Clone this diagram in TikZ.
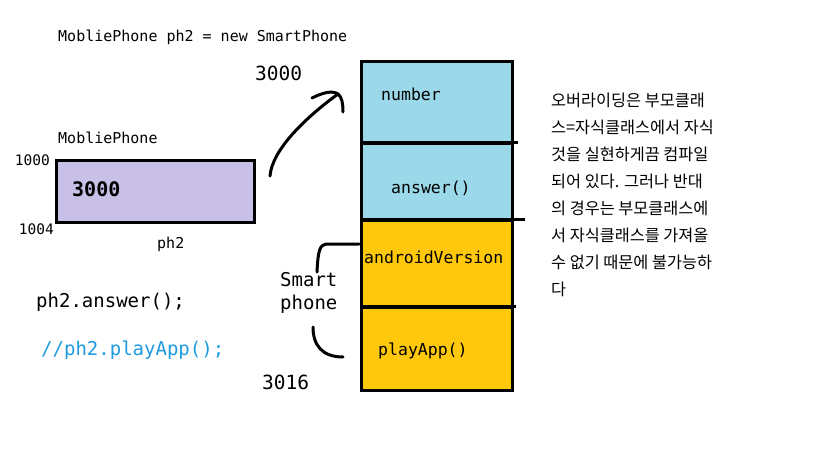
\documentclass[tikz,border=0pt]{standalone}
\usepackage{fontspec}
\setmonofont{DejaVu Sans Mono}
\newfontfamily\krfont{Noto Sans CJK KR}
\usetikzlibrary{positioning}
\definecolor{boxpurple}{HTML}{C8C0E6}
\definecolor{cellblue}{HTML}{9AD8EA}
\definecolor{cellyellow}{HTML}{FFC80A}
\definecolor{commentblue}{HTML}{1E9BE0}
\tikzset{
  mono/.style={anchor=west,inner sep=0pt,font=\ttfamily\fontsize{#1}{#1}\selectfont},
  mono/.default=15,
  cellbox/.style={draw,line width=3pt,anchor=north west,minimum width=151,inner sep=0pt},
  handline/.style={line width=3pt,line cap=round,line join=round},
}
\begin{document}
\begin{tikzpicture}[x=1pt,y=-1pt]
  \useasboundingbox (0,0) rectangle (819,460);
  % header
  \node[mono] (decl) at (58,37) {MobliePhone ph2 = new SmartPhone};
  % reference variable
  \node[mono] (typename) at (58,138) {MobliePhone};
  \node[draw,line width=3pt,fill=boxpurple,anchor=north west,minimum width=198,minimum height=62,inner sep=0pt] (ph2box) at (55,159) {};
  \node[mono=20] (ph2value) at (72,189) {\bfseries 3000};
  \node[mono=14.5,anchor=east] (addrtop) at (50,160) {1000};
  \node[mono=14.5,anchor=east] (addrbot) at (54,229) {1004};
  \node[mono] (ph2name) at (157,244) {ph2};
  % calls
  \node[mono=19] (callok) at (36,302) {ph2.answer();};
  \node[mono=19,text=commentblue] (callno) at (41,350) {//ph2.playApp();};
  % heap object
  \node[cellbox,fill=cellblue,minimum height=82] (numbercell) at (360,60) {};
  \node[cellbox,fill=cellblue,minimum height=77] (answercell) at (360,142) {};
  \node[cellbox,fill=cellyellow,minimum height=87] (androidcell) at (360,219) {};
  \node[cellbox,fill=cellyellow,minimum height=83] (playcell) at (360,306) {};
  \draw[line width=3pt] (answercell.north west) -- ++(158,0);
  \draw[line width=3pt] (androidcell.north west) -- ++(165,0);
  \draw[line width=3pt] (playcell.north west) -- ++(156,0);
  \node[mono=16.5] (numberlbl) at (381,94) {number};
  \node[mono=16.5] (answerlbl) at (391,188) {answer()};
  \node[mono=16.5] (androidlbl) at (364,257) {androidVersion};
  \node[mono=16.5] (playlbl) at (378,351) {playApp()};
  \node[mono=19.5] (heapaddr) at (255,73) {3000};
  \node[mono=19.5] (endaddr) at (262,382) {3016};
  \node[mono=19,align=left] (smartlbl) at (280,293) {Smart\\[4pt]phone};
  % pointer arrow
  \coordinate (ptrstart) at (270,176);
  \coordinate (ptrend) at (338,94);
  \draw[handline] (ptrstart) .. controls (272,150) and (305,118) .. (ptrend);
  \draw[handline] (312,98) .. controls (322,93) and (332,90) .. (ptrend) .. controls (342,97) and (343,104) .. (343,112);
  % bracket
  \draw[handline] (359,244) -- (326,244) .. controls (320,245) and (318,250) .. (317,272);
  \draw[handline] (313,327) .. controls (313,345) and (322,357) .. (343,357);
  % explanation
  \node[anchor=north west,inner sep=0pt,align=left,font=\krfont\fontsize{16.3}{27}\selectfont] (note) at (551,93)
    {오버라이딩은 부모클래\\
     스=자식클래스에서 자식\\
     것을 실현하게끔 컴파일\\
     되어 있다. 그러나 반대\\
     의 경우는 부모클래스에\\
     서 자식클래스를 가져올\\
     수 없기 때문에 불가능하\\
     다};
\end{tikzpicture}
\end{document}
